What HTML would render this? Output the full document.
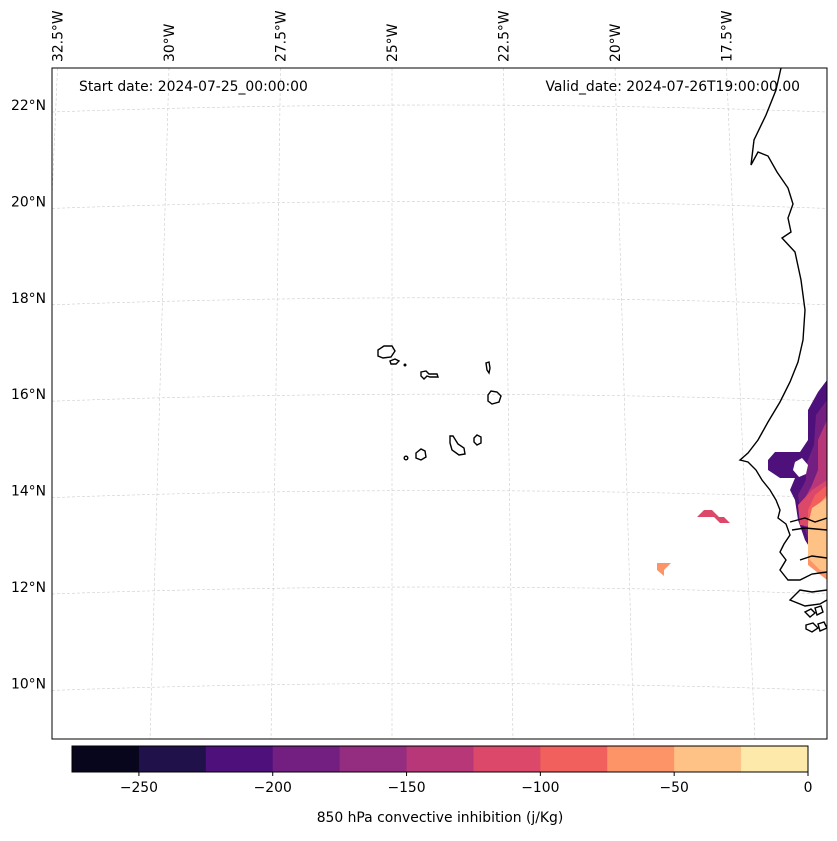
<!DOCTYPE html>
<html><head><meta charset="utf-8"><style>
body{margin:0;background:#fff;}
svg text{font-family:"DejaVu Sans","Liberation Sans",sans-serif;fill:#000;}
</style></head><body>
<svg width="837" height="836" viewBox="0 0 837 836">
<defs><clipPath id="mapclip"><rect x="52" y="68" width="775" height="671"/></clipPath></defs>
<rect x="52" y="68" width="775" height="671" fill="#fff"/>
<g id="grid" clip-path="url(#mapclip)"></g>
<g clip-path="url(#mapclip)">
 <polygon fill="#4e117b" points="827,380 818,392 808,410 808,440 800,452 775,452 768,460 768,470 780,478 795,478 790,490 795,500 798,520 805,540 827,575"/>
 <polygon fill="#721f81" points="827,400 816,415 814,445 806,465 806,480 798,495 802,520 810,545 827,565"/>
 <polygon fill="#b73779" points="827,420 818,440 818,470 812,485 804,500 806,525 827,530"/>
 <polygon fill="#dc4869" points="827,480 812,490 798,505 800,525 827,530"/>
 <polygon fill="#f1605d" points="827,485 815,495 808,510 808,560 827,560"/>
 <polygon fill="#fd9467" points="827,495 818,505 808,520 808,565 827,580"/>
 <polygon fill="#fec287" points="827,498 812,508 808,525 808,558 820,570 827,572"/>
 <polygon fill="#fff" points="795,462 802,458 808,465 806,474 799,477 793,470"/>
 <polygon fill="#dc4869" points="697,517 704,510 712,510 719,517 724,517 730,523 720,523 714,517"/>
 <polygon fill="#fd9467" points="657,563 671,563 664,570 664,576 657,570"/>
</g>
<g clip-path="url(#mapclip)" fill="none" stroke="#000" stroke-width="1.4">
 <polyline points="781,68 776,90 766,115 754,140 751,165 758,152 768,156 777,172 788,188 793,204 788,218 791,232 782,238 795,252 801,280 805,310 803,340 798,362 790,382 780,402 768,422 758,440 748,453 740,460 748,462 756,470 762,480 770,490 776,500 780,510 778,518 786,524 790,535 784,544 780,552 786,560 780,570 788,580 800,580 812,574 827,572"/>
 <polyline points="827,590 812,592 800,590 790,600 805,606 820,604 827,600"/>
 <polyline points="790,522 805,518 815,522 827,518"/>
 <polyline points="792,530 805,528 827,530"/>
 <polyline points="800,560 812,556 827,558"/>
 <path d="M805,612 l6,-3 4,4 -5,4z M815,608 l6,-2 2,6 -6,3z M806,625 l7,-2 5,5 -6,4 -6,-3z M818,624 l6,-2 3,6 -7,3z"/>
 <path d="M378,350 l6,-4 8,0 3,5 -4,6 -8,1 -5,-2z"/>
 <path d="M390,361 l5,-2 4,2 -3,3 -5,0z"/>
 <circle cx="405" cy="365" r="0.8"/>
 <path d="M421,372 l5,-1 3,3 8,0 1,3 -8,0 -3,-1 -3,3 -3,-3z"/>
 <path d="M486,363 l3,-1 1,6 -1,5 -2,-3z"/>
 <path d="M488,395 l3,-4 6,1 4,4 -2,6 -7,2 -4,-3z"/>
 <path d="M474,438 l3,-3 4,2 0,6 -4,2 -3,-3z"/>
 <path d="M450,436 l3,0 5,8 6,4 1,6 -6,1 -7,-5 -2,-7z"/>
 <path d="M416,453 l5,-4 4,2 1,6 -5,3 -5,-2z"/>
 <circle cx="406" cy="458" r="1.8"/>
</g>
<rect x="52" y="68" width="775" height="671" fill="none" stroke="#000" stroke-width="1"/>
<g id="latlabels"></g>
<g id="lonlabels"></g>
<text x="79" y="91" font-size="13.9">Start date: 2024-07-25_00:00:00</text>
<text x="800" y="91" font-size="13.9" text-anchor="end">Valid_date: 2024-07-26T19:00:00.00</text>
<g id="cbar"></g>
<text x="440" y="822" font-size="13.9" text-anchor="middle">850 hPa convective inhibition (j/Kg)</text>
</svg>
<script>
const latValues = [22, 20, 18, 16, 14, 12, 10];
const lonValues = [32.5, 30, 27.5, 25, 22.5, 20, 17.5];
const cbarLevels = [-275,-250,-225,-200,-175,-150,-125,-100,-75,-50,-25,0];
const cbarColors = ["#07061c","#20114b","#4e117b","#721f81","#942c80","#b73779","#dc4869","#f1605d","#fd9467","#fec287","#fde9a9"];
const cbarTicks = [-250,-200,-150,-100,-50,0];

const NS='http://www.w3.org/2000/svg';
function mk(t,a){const e=document.createElementNS(NS,t);for(const k in a)e.setAttribute(k,a[k]);return e;}
const latY = v => 105 + (22 - v) * 48.2;
function lonX(v){return 392 - (v - 25) * 44.6;}
const grid=document.getElementById('grid');
latValues.forEach(v=>{
  const y=latY(v);
  const p=mk('path',{d:`M52,${y+7} Q440,${y-7} 827,${y+7}`,fill:'none',stroke:'#ccc','stroke-width':0.6,'stroke-dasharray':'3,2'});
  
  
  grid.appendChild(p);
  const t=mk('text',{x:46,y:y+5,'font-size':13.9,'text-anchor':'end'});
  t.textContent=v+'°N';
  
  
  document.getElementById('latlabels').appendChild(t);
});
lonValues.forEach(v=>{
  const xt=lonX(v), xb=392+(xt-392)*1.085;
  const l=mk('line',{x1:xt,y1:68,x2:xb,y2:739,stroke:'#ccc','stroke-width':0.6,'stroke-dasharray':'3,2'});
  
  
  grid.appendChild(l);
  const t=mk('text',{x:0,y:0,'font-size':13.9,transform:`translate(${xt+5},62) rotate(-90)`});
  t.textContent=v+'°W';
  
  
  document.getElementById('lonlabels').appendChild(t);
});
const cb=document.getElementById('cbar');
const cx0=72,cx1=808,lo=cbarLevels[0],hi=cbarLevels[cbarLevels.length-1];
const cX=v=>cx0+(v-lo)/(hi-lo)*(cx1-cx0);
cbarColors.forEach((c,i)=>{
  const x=cX(cbarLevels[i]),w=cX(cbarLevels[i+1])-x;
  const r=mk('rect',{x:x,y:746,width:w+0.5,height:26,fill:c});
  
  
  cb.appendChild(r);
});
const fr=mk('rect',{x:cx0,y:746,width:cx1-cx0,height:26,fill:'none',stroke:'#000','stroke-width':1});


cb.appendChild(fr);
cbarTicks.forEach(v=>{
  const x=cX(v);
  const tk=mk('line',{x1:x,y1:772,x2:x,y2:776,stroke:'#000'});
  
  
  cb.appendChild(tk);
  const t=mk('text',{x:x,y:792,'font-size':13.9,'text-anchor':'middle'});
  t.textContent=(v<0?'\u2212'+Math.abs(v):v);
  
  
  cb.appendChild(t);
});
</script>
</body></html>
